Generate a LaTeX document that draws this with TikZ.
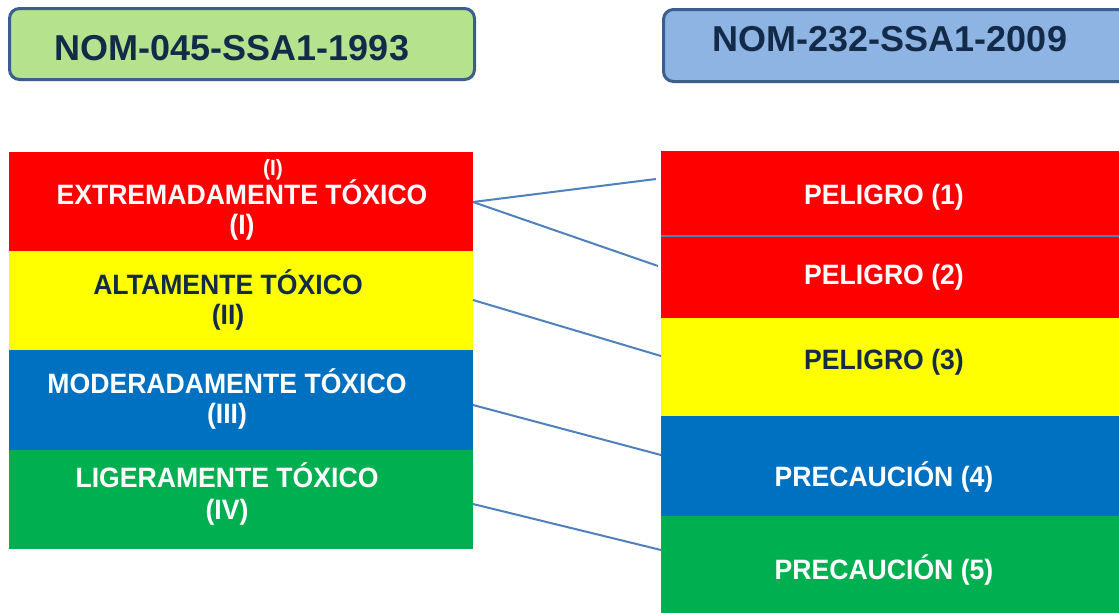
\documentclass[tikz,border=0pt]{standalone}
\usepackage{fontspec}
\setmainfont{Liberation Sans}
\newfontfamily\labfont{Liberation Sans}[FakeStretch=0.95]
\definecolor{myred}{HTML}{FF0000}
\definecolor{myyel}{HTML}{FFFF00}
\definecolor{myblue}{HTML}{0070C0}
\definecolor{mygreen}{HTML}{00B050}
\definecolor{titgreen}{HTML}{B5E28D}
\definecolor{titblue}{HTML}{8DB4E2}
\definecolor{titborder}{HTML}{3B5E8C}
\definecolor{navy}{HTML}{132B48}
\definecolor{linkblue}{HTML}{4F81BD}
\begin{document}
\begin{tikzpicture}[x=1pt,y=-1pt,
  band/.style={draw=none, inner sep=0pt, outer sep=0pt, anchor=north west},
  titlebox/.style={draw=titborder, line width=3pt, rounded corners=10pt, inner sep=0pt, anchor=north west},
  titletext/.style={anchor=base, inner sep=0pt, text=navy, font=\fontsize{36}{40}\selectfont\bfseries},
  lab/.style={anchor=base, inner sep=0pt, font=\labfont\fontsize{28}{30}\selectfont\bfseries},
  wlab/.style={lab, text=white},
  dlab/.style={lab, text=navy},
  link/.style={draw=linkblue, line width=2pt}]
\clip (0,0) rectangle (1119,613);
\fill[white] (0,0) rectangle (1119,613);
% titles
\node[titlebox, fill=titgreen, minimum width=465pt, minimum height=71pt] (t1) at (8,7) {};
\node[titlebox, fill=titblue, minimum width=480pt, minimum height=72pt] (t2) at (662,8) {};
\node[titletext] (t1txt) at (232,60) {NOM-045-SSA1-1993};
\node[titletext] (t2txt) at (890,51) {NOM-232-SSA1-2009};
% left column
\node[band, fill=myred, minimum width=464pt, minimum height=99pt] (lred) at (9,152) {};
\node[band, fill=myyel, minimum width=464pt, minimum height=99pt] (lyel) at (9,251) {};
\node[band, fill=myblue, minimum width=464pt, minimum height=100pt] (lblue) at (9,350) {};
\node[band, fill=mygreen, minimum width=464pt, minimum height=99pt] (lgreen) at (9,450) {};
% right column
\node[band, fill=myred, minimum width=470pt, minimum height=85pt] (rred1) at (661,151) {};
\node[band, fill=myred, minimum width=470pt, minimum height=82pt] (rred2) at (661,236) {};
\node[band, fill=myyel, minimum width=470pt, minimum height=98pt] (ryel) at (661,318) {};
\node[band, fill=myblue, minimum width=470pt, minimum height=100pt] (rblue) at (661,416) {};
\node[band, fill=mygreen, minimum width=470pt, minimum height=105pt] (rgreen) at (661,516) {};
\draw[link] (rred1.south west) -- (rred1.south east);
% left labels
\node[wlab, font=\labfont\fontsize{22}{24}\selectfont\bfseries] (l1a) at (273,175) {(I)};
\node[wlab] (l1b) at (242,204) {EXTREMADAMENTE TÓXICO};
\node[wlab] (l1c) at (242,234) {(I)};
\node[dlab] (l2a) at (228,294) {ALTAMENTE TÓXICO};
\node[dlab] (l2b) at (228,324) {(II)};
\node[wlab] (l3a) at (227,393) {MODERADAMENTE TÓXICO};
\node[wlab] (l3b) at (227,423) {(III)};
\node[wlab] (l4a) at (227,487) {LIGERAMENTE TÓXICO};
\node[wlab] (l4b) at (227,519) {(IV)};
% right labels
\node[wlab] (r1) at (884,204) {PELIGRO (1)};
\node[wlab] (r2) at (884,284) {PELIGRO (2)};
\node[dlab] (r3) at (884,369) {PELIGRO (3)};
\node[wlab] (r4) at (884,486) {PRECAUCIÓN (4)};
\node[wlab] (r5) at (884,579) {PRECAUCIÓN (5)};
% connectors
\coordinate (s1) at (473,202);
\coordinate (e1) at (656,179);
\coordinate (e2) at (658,266);
\coordinate (s3) at (473,300);
\coordinate (e3) at (661,356);
\coordinate (s4) at (473,405);
\coordinate (e4) at (661,455);
\coordinate (s5) at (473,504);
\coordinate (e5) at (661,550);
\draw[link] (s1) -- (e1);
\draw[link] (s1) -- (e2);
\draw[link] (s3) -- (e3);
\draw[link] (s4) -- (e4);
\draw[link] (s5) -- (e5);
\end{tikzpicture}
\end{document}
